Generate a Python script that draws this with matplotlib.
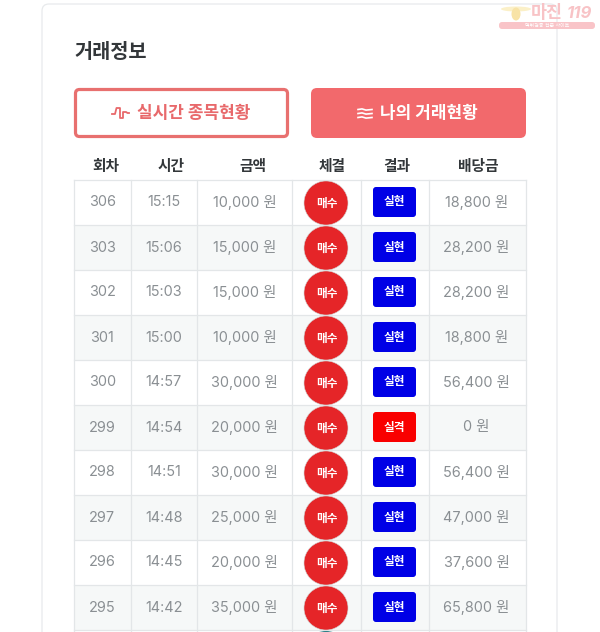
import matplotlib
matplotlib.use("Agg")
import matplotlib.pyplot as plt
from matplotlib.patches import FancyBboxPatch, Rectangle, Ellipse

plt.rcParams['font.family'] = ['Inter', 'Noto Sans CJK KR', 'DejaVu Sans']

title = "거래정보"
tab_labels = ["실시간 종목현황", "나의 거래현황"]
headers = ["회차", "시간", "금액", "체결", "결과", "배당금"]
rounds = ["306", "303", "302", "301", "300", "299", "298", "297", "296", "295"]
times = ["15:15", "15:06", "15:03", "15:00", "14:57", "14:54", "14:51", "14:48", "14:45", "14:42"]
amounts = ["10,000 원", "15,000 원", "15,000 원", "10,000 원", "30,000 원",
           "20,000 원", "30,000 원", "25,000 원", "20,000 원", "35,000 원"]
fills = ["매수"] * 10
results = ["실현", "실현", "실현", "실현", "실현", "실격", "실현", "실현", "실현", "실현"]
payouts = ["18,800 원", "28,200 원", "28,200 원", "18,800 원", "56,400 원",
           "0 원", "56,400 원", "47,000 원", "37,600 원", "65,800 원"]

col_edges = [74, 130.5, 197, 292, 360.5, 428.5, 525.5]
header_x = [105.5, 171.5, 252.5, 332, 397, 478]

fig = plt.figure(figsize=(6.0, 6.32), dpi=100)
ax = fig.add_axes([0, 0, 1, 1])
ax.set_xlim(0, 600)
ax.set_ylim(632, 0)
ax.axis("off")
ax.set_autoscale_on(False)

GRID = "#e3e6e8"
GREY = "#8a8f93"
DARK = "#33373a"
RED = "#e52528"
CORAL = "#f2696c"

# card
ax.add_patch(FancyBboxPatch((42, 4), 515, 660, boxstyle="round,pad=0,rounding_size=7",
                            fc="white", ec="#e8eaec", lw=0.9, zorder=1))
ax.text(74, 52, title, fontsize=14.2, fontweight="bold", color=DARK, va="center", ha="left", zorder=3)

# buttons
ax.add_patch(FancyBboxPatch((75.5, 89.5), 212, 47, boxstyle="round,pad=0,rounding_size=4",
                            fc="white", ec="#e8706f", lw=2.3, zorder=2))
ax.add_patch(FancyBboxPatch((311, 88), 215, 50, boxstyle="round,pad=0,rounding_size=6",
                            fc=CORAL, ec="none", zorder=2))
ax.text(137, 113, tab_labels[0], fontsize=12.2, fontweight="bold", color="#e8696b",
        ha="left", va="center", zorder=3)
ax.text(380, 113, tab_labels[1], fontsize=12.2, fontweight="bold", color="white",
        ha="left", va="center", zorder=3)
ax.plot([112, 115, 116.5, 118, 120, 120, 123, 123, 126, 127.5, 129],
        [114, 114, 108, 108, 108, 118, 118, 112, 112, 113, 113],
        color="#e8696b", lw=1.3, zorder=3)
for yy in (109.5, 113.5, 117.5):
    ax.plot([358, 362, 366, 372], [yy, yy - 0.6, yy + 0.6, yy], color="white", lw=1.2, zorder=3)

# header
for hx, h in zip(header_x, headers):
    ax.text(hx, 166.5, h, fontsize=10.6, fontweight="bold", color=DARK, ha="center", va="center", zorder=3)

# table rows
top, rh = 180, 45
n = len(rounds)
for r in range(n + 1):
    y0 = top + r * rh
    if r % 2 == 1:
        ax.add_patch(Rectangle((col_edges[0], y0), col_edges[-1] - col_edges[0], rh,
                               fc="#f6f8f8", ec="none", zorder=1.5))
    ax.plot([col_edges[0], col_edges[-1]], [y0, y0], color=GRID, lw=0.9, zorder=1.8)
for x in col_edges:
    ax.plot([x, x], [top, 632], color=GRID, lw=0.9, zorder=1.8)

for r in range(n):
    yc = top + r * rh + 22.5
    cx = [(col_edges[i] + col_edges[i + 1]) / 2 for i in range(6)]
    kw = dict(fontsize=10.4, color=GREY, ha="center", va="center", zorder=3)
    ax.text(cx[0], yc, rounds[r], **kw)
    ax.text(cx[1], yc, times[r], **kw)
    ax.text(cx[2], yc, amounts[r], **kw)
    ax.text(cx[5] - 0.5, yc, payouts[r], **kw)
    ax.add_patch(Ellipse((326, yc + 0.5), 44, 44, fc=RED, ec="#d0d0d0", lw=0.4, zorder=2.5))
    ax.text(326.5, yc + 1, fills[r], fontsize=8.4, fontweight="bold", color="white",
            ha="center", va="center", zorder=3)
    col = "#0000e6" if results[r] == "실현" else "#f90000"
    ax.add_patch(FancyBboxPatch((373, yc - 15.5), 43, 30, boxstyle="round,pad=0,rounding_size=3",
                                fc=col, ec="none", zorder=2.5))
    ax.text(394.5, yc, results[r], fontsize=8.4, fontweight="bold", color="white",
            ha="center", va="center", zorder=3)

# next row's circle peeking at the bottom edge
ax.add_patch(Ellipse((326, 653), 44, 44, fc="#2a7f86", ec="none", zorder=2.5))

# watermark
ax.add_patch(FancyBboxPatch((499, 22), 96, 7, boxstyle="round,pad=0,rounding_size=3",
                            fc="#f9c4c8", ec="none", zorder=4))
ax.text(547, 25.5, "먹튀검증 전문 사이트", fontsize=3.6, color="white", ha="center", va="center", zorder=5)
ax.text(547, 14, "마진", fontsize=12.5, fontweight="bold", color="#f8c3c6", ha="center", va="center", zorder=5)
ax.text(579, 14, "119", fontsize=12, fontweight="bold", style="italic", color="#f8c3c6",
        ha="center", va="center", zorder=5)
ax.add_patch(Ellipse((516, 9), 30, 5, fc="#fbf0c8", ec="none", zorder=4))
ax.add_patch(Ellipse((516, 14), 9, 13, fc="#f8e3a6", ec="none", zorder=4))

fig.savefig("out.png", dpi=100, facecolor="white")
